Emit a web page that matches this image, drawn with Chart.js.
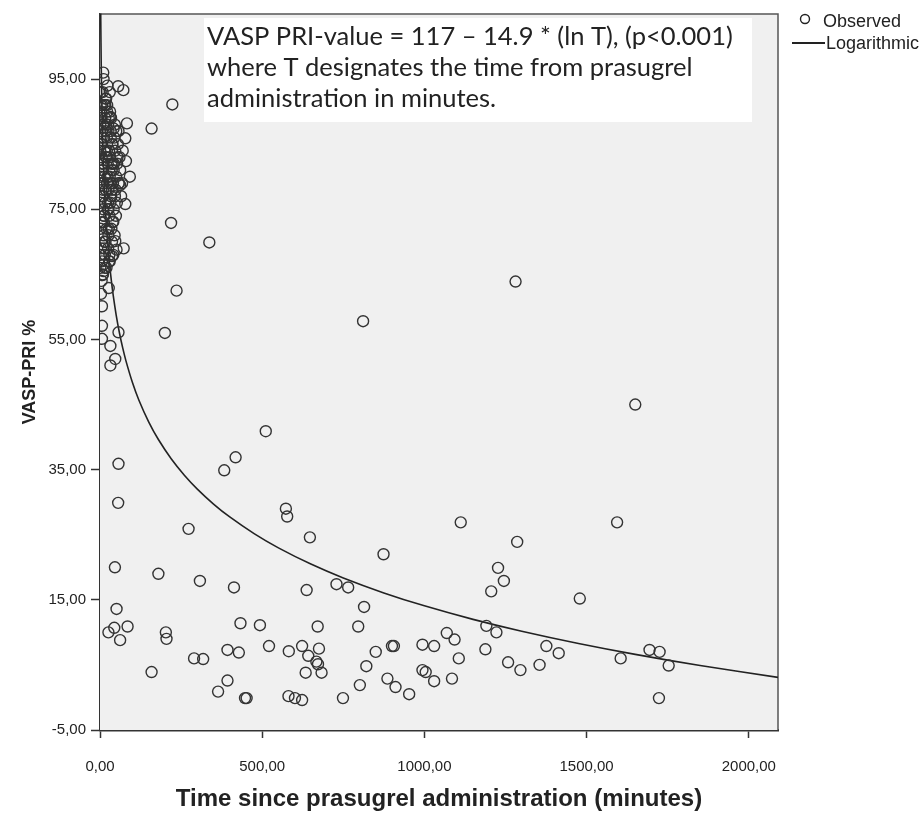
<!DOCTYPE html>
<html>
<head>
<meta charset="utf-8">
<script src="https://cdn.jsdelivr.net/npm/chart.js@4.4.1/dist/chart.umd.min.js"></script>
<style>
  html, body { margin: 0; padding: 0; background: #fff; }
  #wrap { position: relative; width: 921px; height: 814px; }
</style>
</head>
<body>
<div id="wrap"><canvas id="myChart" width="921" height="814"></canvas></div>
<script>
// observed VASP-PRI values (time in minutes, PRI in %)
const obsTime = [
  2, 4, 6, 3, 5, 8, 2, 7, 10, 4, 12, 3, 6, 9, 12, 15, 11, 14, 18, 16, 13, 20, 17,
  22, 25, 21, 28, 24, 30, 26, 32, 29, 35, 27, 33, 38, 31, 36, 40, 34, 42, 39, 45,
  44, 47, 43, 50, 48, 52, 46, 55, 53, 58, 60, 57, 62, 19, 23, 8, 14, 1, 1, 1, 1, 1,
  2, 1, 5, 3, 9, 15, 25, 37, 20, 30, 41, 7, 10, 16, 18, 26, 33, 39, 49, 65, 70, 68,
  3, 5, 7, 9, 11, 13, 15, 17, 19, 21, 23, 25, 27, 29, 31, 33, 35, 37, 2, 4,
  6, 8, 10, 12, 14, 16, 18, 20, 22, 24, 26, 28, 30, 34, 38, 42, 46, 50, 54, 58,
  10, 11, 56, 72, 22, 32, 83, 42, 78, 80, 92, 62, 78, 41, 47, 73, 51, 37, 11, 11,
  27, 8, 6, 6, 57, 6, 32, 47, 32, 57, 56, 46, 51, 26, 44, 85, 62,
  223, 159, 219, 337, 236, 200, 1281, 811, 1650,
  511, 418, 383, 273, 573, 577, 647, 1112, 874, 1594, 1286, 1227, 1245, 1206, 1479,
  180, 308, 413, 637, 729, 765, 814,
  433, 493, 671, 796, 203, 205, 1191, 1222,
  318, 290, 393, 428, 521, 582, 623, 675, 642, 667, 672, 634, 683, 393, 364, 447,
  452, 581, 601, 623, 749, 801, 821, 850, 886, 911, 953, 900, 906, 994, 1030, 1069,
  1093, 1106, 994, 1004, 1030, 1085, 1188, 159,
  1376, 1414, 1258, 1296, 1355, 1605, 1694, 1725, 1753, 1723
];
const obsVasp = [
  91, 89, 87, 85, 83, 81, 79, 77, 75, 73, 71, 69, 67, 88, 86, 84, 82, 80, 78, 76, 74, 72, 70,
  90, 88, 86, 84, 82, 80, 78, 76, 74, 72, 89, 87, 85, 83, 81, 79, 77, 75, 73, 71,
  86, 84, 82, 80, 78, 76, 88, 85, 82, 79, 83, 87, 81, 92, 94, 93, 91, 88, 84, 80, 76, 72,
  68, 66, 64, 62, 65, 68, 69, 70, 66, 67, 68, 91, 79, 89, 83, 75, 79, 82, 74, 77, 84, 79,
  90, 86, 82, 78, 74, 70, 66, 92, 88, 84, 80, 76, 72, 68, 90, 86, 82, 78, 93, 89,
  85, 81, 77, 73, 69, 91, 87, 83, 79, 75, 71, 67, 93, 89, 85, 81, 77, 87, 83, 79,
  96, 95, 93.9, 93.3, 91, 89.2, 88.2, 87.4, 85.9, 82.4, 80, 78.7, 75.8, 73.1, 70.1, 69, 68.8, 67.8, 66.5, 65.5,
  62.9, 64.9, 60.1, 57.1, 56.1, 55.1, 54, 52, 51, 35.9, 29.9, 20, 13.6, 10, 10.7, 10.9, 8.8,
  91.1, 87.4, 72.9, 69.9, 62.5, 56, 63.9, 57.8, 45,
  40.9, 36.9, 34.9, 25.9, 29, 27.8, 24.6, 26.9, 22, 26.9, 23.9, 19.9, 17.9, 16.3, 15.2,
  19, 17.9, 16.9, 16.5, 17.4, 16.9, 13.9,
  11.4, 11.1, 10.9, 10.9, 10, 9, 11, 10,
  5.9, 6, 7.3, 6.9, 7.9, 7.1, 7.9, 7.5, 6.4, 5.5, 5.1, 3.8, 3.8, 2.6, 0.9, -0.1,
  -0.1, 0.2, -0.1, -0.4, -0.1, 1.9, 4.8, 7, 2.9, 1.6, 0.5, 7.9, 7.9, 8.1, 7.9, 9.9,
  8.9, 6, 4.2, 3.9, 2.5, 2.9, 7.4, 3.9,
  7.9, 6.8, 5.4, 4.2, 5, 6, 7.3, 7, 4.9, -0.1
];

// logarithmic fit stated on the chart: PRI = 117 - 14.9 * ln(T)
const fitA = 117;
const fitB = 14.9;
const curveTime = [2.24, 2.6, 3, 3.5, 4, 5, 6, 7, 8, 10, 12, 14, 17, 20, 25, 30, 35, 40,
  50, 60, 70, 80, 100, 120, 150, 180, 220, 260, 300, 350, 400, 475, 550, 650, 750,
  875, 1000, 1150, 1300, 1475, 1650, 1850, 2090];

const xTicks = [0, 500, 1000, 1500, 2000];
const yTicks = [-5, 15, 35, 55, 75, 95];

const eqLines = [
  'VASP PRI-value = 117 \u2013 14.9 * (ln T), (p<0.001)',
  'where T designates the time from prasugrel',
  'administration in minutes.'
];

const observed = obsTime.map((t, i) => ({ x: t, y: obsVasp[i] }));
const curve = curveTime.map(t => ({ x: t, y: fitA - fitB * Math.log(t) }));

const fmt = v => v.toFixed(2).replace('.', ',');

const plotFrame = {
  id: 'plotFrame',
  beforeDatasetsDraw(chart) {
    const { ctx, chartArea: a } = chart;
    ctx.save();
    ctx.fillStyle = '#f0f0f0';
    ctx.fillRect(a.left, a.top, a.right - a.left, a.bottom - a.top);
    ctx.strokeStyle = '#555';
    ctx.lineWidth = 1.5;
    ctx.beginPath();
    ctx.moveTo(a.left, a.top);
    ctx.lineTo(a.right, a.top);
    ctx.lineTo(a.right, a.bottom);
    ctx.stroke();
    ctx.restore();
  },
  afterDraw(chart) {
    const ctx = chart.ctx;
    ctx.save();
    // equation box
    ctx.fillStyle = '#fff';
    ctx.fillRect(204, 18, 548, 104);
    ctx.fillStyle = '#222';
    ctx.font = '25.5px Lato';
    ctx.textBaseline = 'middle';
    eqLines.forEach((s, i) => ctx.fillText(s, 207, 37 + i * 31));
    // legend
    ctx.font = '18px "Liberation Sans"';
    ctx.fillStyle = '#222';
    ctx.fillText('Observed', 823, 22);
    ctx.fillText('Logarithmic', 826, 44);
    ctx.strokeStyle = '#222';
    ctx.lineWidth = 1.4;
    ctx.beginPath();
    ctx.arc(805, 19, 4.5, 0, Math.PI * 2);
    ctx.stroke();
    ctx.lineWidth = 2;
    ctx.beginPath();
    ctx.moveTo(792, 43);
    ctx.lineTo(825, 43);
    ctx.stroke();
    ctx.restore();
  }
};

const config = {
  type: 'scatter',
  data: {
    datasets: [
      {
        label: 'Observed',
        data: observed,
        pointRadius: 5.5,
        pointBorderWidth: 1.4,
        pointBorderColor: '#333',
        pointBackgroundColor: 'rgba(0,0,0,0)',
        showLine: false
      },
      {
        label: 'Logarithmic',
        data: curve,
        showLine: true,
        borderColor: '#222',
        borderWidth: 1.6,
        pointRadius: 0,
        tension: 0.3,
        fill: false
      }
    ]
  },
  options: {
    responsive: false,
    animation: false,
    layout: { padding: { left: 0, right: 143, top: 12, bottom: 0 } },
    plugins: { legend: { display: false }, tooltip: { enabled: false } },
    scales: {
      x: {
        type: 'linear',
        min: 0,
        max: 2090,
        afterBuildTicks: s => { s.ticks = xTicks.map(v => ({ value: v })); },
        afterFit: s => { s.height = 84; },
        grid: { drawOnChartArea: false, drawTicks: true, tickLength: 8, tickColor: '#333', tickWidth: 1.5 },
        border: { color: '#333', width: 2.5 },
        ticks: { callback: fmt, color: '#222', padding: 20, maxRotation: 0,
          font: { family: 'Liberation Sans', size: 15 } },
        title: { display: true, text: 'Time since prasugrel administration (minutes)',
          color: '#222', padding: { top: 0, bottom: 0 },
          font: { family: 'Liberation Sans', size: 24, weight: 'bold' } }
      },
      y: {
        type: 'linear',
        min: -5,
        max: 105,
        afterBuildTicks: s => { s.ticks = yTicks.map(v => ({ value: v })); },
        afterFit: s => { s.width = 100; },
        grid: { drawOnChartArea: false, drawTicks: true, tickLength: 9, tickColor: '#333', tickWidth: 1.5 },
        border: { color: '#333', width: 2.5 },
        ticks: { callback: fmt, color: '#222', padding: 5,
          font: { family: 'Liberation Sans', size: 15 } },
        title: { display: true, text: 'VASP-PRI %', color: '#222',
          padding: { top: 19, bottom: 0 },
          font: { family: 'Liberation Sans', size: 18, weight: 'bold' } }
      }
    }
  },
  plugins: [plotFrame]
};

const myChart = new Chart(document.getElementById('myChart'), config);
</script>
</body>
</html>
